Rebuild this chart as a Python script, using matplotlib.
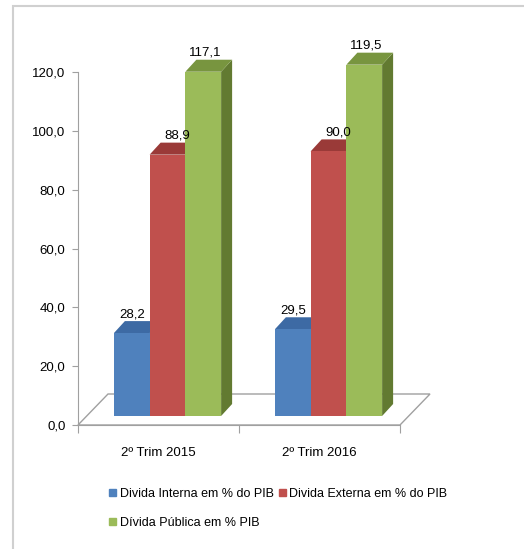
import matplotlib
matplotlib.use("Agg")
import matplotlib.pyplot as plt
from matplotlib.patches import Polygon, Rectangle, Patch

plt.rcParams['font.family'] = ['Liberation Sans', 'DejaVu Sans']
fs = 9.5

# data
categories = ['2º Trim 2015', '2º Trim 2016']
series_names = ['Divida Interna em % do PIB', 'Divida Externa em % do PIB', 'Dívida Pública em % PIB']
interna = [28.2, 29.5]
externa = [88.9, 90.0]
publica = [117.1, 119.5]
y_ticks = [0, 20, 40, 60, 80, 100, 120]

# colours (front, top, side)
front_col = ['#4F81BD', '#C0504D', '#9BBB59']
top_col = ['#3D6AA4', '#9A3A38', '#78953F']
side_col = ['#385D8A', '#8C3836', '#627A31']

def br(v):
    return f"{v:.1f}".replace('.', ',')

fig = plt.figure(figsize=(5.24, 5.49), dpi=100)
ax = fig.add_axes([78/524, (549-425)/549, 362/524, 124*2.94/549])
ax.set_xlim(-0.5, -0.5 + 362/161)
ax.set_ylim(0, 124)

# 3d look: plane offset of the bars, depth of the bars, depth of the floor
off_x, off_y = 9/161, 9/2.94
dep_x, dep_y = 11/161, 12/2.94
floor_x, floor_y = 30/161, 31/2.94
bar_w = 0.222
grey = '#A0A0A0'

floor = Polygon([(-0.5, 0), (1.5, 0), (1.5 + floor_x, floor_y), (-0.5 + floor_x, floor_y)],
                closed=True, facecolor='white', edgecolor=grey, lw=1, zorder=1, clip_on=False)
ax.add_patch(floor)

data = [interna, externa, publica]
label_dx = [0, 0.06, 0.01]
for i, vals in enumerate(data):
    xs = [c + off_x + (i - 1) * bar_w for c in range(len(categories))]
    bars = ax.bar(xs, vals, bar_w, bottom=off_y, color=front_col[i], zorder=4 + 3 * i)
    for b in bars:
        b.set_clip_on(False)
    for x, v in zip(xs, vals):
        x0, x1 = x - bar_w / 2, x + bar_w / 2
        top = off_y + v
        side = Polygon([(x1, off_y), (x1 + dep_x, off_y + dep_y), (x1 + dep_x, top + dep_y), (x1, top)],
                       closed=True, facecolor=side_col[i], edgecolor='none', zorder=2 + 3 * i, clip_on=False)
        lid = Polygon([(x0, top), (x1, top), (x1 + dep_x, top + dep_y), (x0 + dep_x, top + dep_y)],
                      closed=True, facecolor=top_col[i], edgecolor='none', zorder=3 + 3 * i, clip_on=False)
        ax.add_patch(side)
        ax.add_patch(lid)
        ax.text(x + label_dx[i], top + dep_y + 0.3, br(v), ha='center', va='bottom',
                fontsize=fs, zorder=20)

# axes
for s in ['top', 'right']:
    ax.spines[s].set_visible(False)
ax.spines['left'].set_bounds(0, 120)
ax.spines['bottom'].set_bounds(-0.5, 1.5)
ax.spines['left'].set_color(grey)
ax.spines['bottom'].set_color(grey)
ax.set_yticks(y_ticks)
ax.set_yticklabels([br(t) for t in y_ticks], fontsize=fs)
ax.tick_params(axis='y', length=4, color=grey, pad=5)
ax.set_xticks([-0.5, 0.5, 1.5])
ax.set_xticklabels(['', '', ''])
ax.tick_params(axis='x', which='major', length=6, color=grey)
ax.set_xticks([0, 1], minor=True)
ax.set_xticklabels(categories, minor=True, fontsize=fs)
ax.tick_params(axis='x', which='minor', length=0, pad=16)
ax.patch.set_visible(False)

# legend, row-major order
handles = [Patch(color=c) for c in front_col]
order = [0, 2, 1]
fig.legend([handles[k] for k in order], [series_names[k] for k in order],
           loc='upper left', bbox_to_anchor=(109/524, 1 - 488/549), ncol=2, frameon=False,
           handlelength=0.55, handleheight=0.55, handletextpad=0.3, columnspacing=0.4,
           labelspacing=1.35, borderpad=0, borderaxespad=0, fontsize=9)

# chart frame
fig.add_artist(Rectangle((13/524, -0.1), 1.2, 1.1 - 6/549, transform=fig.transFigure,
                         fill=False, edgecolor='#D0D0D0', lw=1.5))

fig.savefig('out.png', dpi=100)
